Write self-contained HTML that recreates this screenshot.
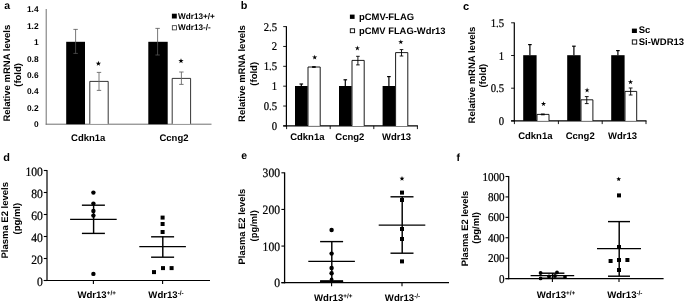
<!DOCTYPE html>
<html><head><meta charset="utf-8"><title>Figure</title>
<style>
html,body{margin:0;padding:0;background:#fff;}
body{width:685px;height:302px;overflow:hidden;font-family:"Liberation Sans",sans-serif;}
svg{display:block;will-change:transform;}
</style></head><body>
<svg width="685" height="302" viewBox="0 0 685 302" text-rendering="geometricPrecision">
<rect x="0" y="0" width="685" height="302" fill="#fff"/>
<text x="4.2" y="9.2" font-size="10.5" font-family="Liberation Sans, sans-serif" font-weight="bold" text-anchor="start" >a</text>
<text transform="translate(9.8 73.2) rotate(-90)" font-size="9.5" font-family="Liberation Sans, sans-serif" font-weight="bold" text-anchor="middle" >Relative mRNA levels</text>
<text transform="translate(20.6 74.9) rotate(-90)" font-size="9.5" font-family="Liberation Sans, sans-serif" font-weight="bold" text-anchor="middle" >(fold)</text>
<line x1="46.2" y1="9" x2="46.2" y2="124.7" stroke="#707070" stroke-width="1.0"/>
<line x1="45.7" y1="124.2" x2="211.5" y2="124.2" stroke="#707070" stroke-width="1.0"/>
<text x="38.6" y="127.2" font-size="8.4" font-family="Liberation Sans, sans-serif" font-weight="bold" text-anchor="end" >0</text>
<text x="38.6" y="110.80000000000001" font-size="8.4" font-family="Liberation Sans, sans-serif" font-weight="bold" text-anchor="end" >0.2</text>
<text x="38.6" y="94.4" font-size="8.4" font-family="Liberation Sans, sans-serif" font-weight="bold" text-anchor="end" >0.4</text>
<text x="38.6" y="78.0" font-size="8.4" font-family="Liberation Sans, sans-serif" font-weight="bold" text-anchor="end" >0.6</text>
<text x="38.6" y="61.60000000000001" font-size="8.4" font-family="Liberation Sans, sans-serif" font-weight="bold" text-anchor="end" >0.8</text>
<text x="38.6" y="45.2" font-size="8.4" font-family="Liberation Sans, sans-serif" font-weight="bold" text-anchor="end" >1</text>
<text x="38.6" y="28.80000000000001" font-size="8.4" font-family="Liberation Sans, sans-serif" font-weight="bold" text-anchor="end" >1.2</text>
<text x="38.6" y="12.40000000000002" font-size="8.4" font-family="Liberation Sans, sans-serif" font-weight="bold" text-anchor="end" >1.4</text>
<rect x="66.20" y="41.80" width="18.80" height="82.40" fill="#000"/>
<path d="M89.80 123.80V81.40H108.20V123.80" fill="#fff" stroke="#000" stroke-width="0.8"/>
<rect x="148.30" y="41.80" width="19.40" height="82.40" fill="#000"/>
<path d="M172.20 123.80V78.40H190.60V123.80" fill="#fff" stroke="#000" stroke-width="0.8"/>
<line x1="75.6" y1="29.4" x2="75.6" y2="53.4" stroke="#555" stroke-width="0.8"/>
<line x1="73.39999999999999" y1="29.4" x2="77.8" y2="29.4" stroke="#555" stroke-width="0.8"/>
<line x1="73.39999999999999" y1="53.4" x2="77.8" y2="53.4" stroke="#555" stroke-width="0.8"/>
<line x1="99" y1="72.4" x2="99" y2="90.4" stroke="#6a6a6a" stroke-width="0.9"/>
<line x1="96.8" y1="72.4" x2="101.2" y2="72.4" stroke="#6a6a6a" stroke-width="0.9"/>
<line x1="96.8" y1="90.4" x2="101.2" y2="90.4" stroke="#6a6a6a" stroke-width="0.9"/>
<line x1="157.6" y1="28.4" x2="157.6" y2="55" stroke="#555" stroke-width="0.8"/>
<line x1="155.4" y1="28.4" x2="159.79999999999998" y2="28.4" stroke="#555" stroke-width="0.8"/>
<line x1="155.4" y1="55" x2="159.79999999999998" y2="55" stroke="#555" stroke-width="0.8"/>
<line x1="181.4" y1="72" x2="181.4" y2="84.4" stroke="#6a6a6a" stroke-width="0.9"/>
<line x1="179.20000000000002" y1="72" x2="183.6" y2="72" stroke="#6a6a6a" stroke-width="0.9"/>
<line x1="179.20000000000002" y1="84.4" x2="183.6" y2="84.4" stroke="#6a6a6a" stroke-width="0.9"/>
<polygon points="98.40,60.80 99.05,62.71 101.06,62.73 99.45,63.94 100.05,65.87 98.40,64.70 96.75,65.87 97.35,63.94 95.74,62.73 97.75,62.71" fill="#000"/>
<polygon points="181.00,58.20 181.65,60.11 183.66,60.13 182.05,61.34 182.65,63.27 181.00,62.10 179.35,63.27 179.95,61.34 178.34,60.13 180.35,60.11" fill="#000"/>
<text x="88.2" y="140.9" font-size="9.5" font-family="Liberation Sans, sans-serif" font-weight="bold" text-anchor="middle" >Cdkn1a</text>
<text x="174" y="140.9" font-size="9.5" font-family="Liberation Sans, sans-serif" font-weight="bold" text-anchor="middle" >Ccng2</text>
<rect x="171.90" y="13.70" width="4.90" height="4.80" fill="#000"/>
<text x="178" y="19" font-size="8.2" font-family="Liberation Sans, sans-serif" font-weight="bold" text-anchor="start" >Wdr13+/+</text>
<rect x="172.30" y="25.70" width="4.20" height="4.20" fill="#fff" stroke="#222" stroke-width="0.75"/>
<text x="178" y="30.4" font-size="8.2" font-family="Liberation Sans, sans-serif" font-weight="bold" text-anchor="start" >Wdr13-/-</text>
<text x="240.7" y="8.8" font-size="10.9" font-family="Liberation Sans, sans-serif" font-weight="bold" text-anchor="start" >b</text>
<text transform="translate(245.4 73.5) rotate(-90)" font-size="9.5" font-family="Liberation Sans, sans-serif" font-weight="bold" text-anchor="middle" >Relative mRNA levels</text>
<text transform="translate(256.9 73.8) rotate(-90)" font-size="9.5" font-family="Liberation Sans, sans-serif" font-weight="bold" text-anchor="middle" >(fold)</text>
<line x1="286.4" y1="26.2" x2="286.4" y2="126.5" stroke="#000" stroke-width="1.2"/>
<line x1="283.2" y1="125.9" x2="417.9" y2="125.9" stroke="#000" stroke-width="1.3"/>
<line x1="283.2" y1="125.9" x2="286.4" y2="125.9" stroke="#000" stroke-width="0.9"/>
<text transform="translate(277.0 129.90) scale(1 1.1)" font-size="10.7" font-family="Liberation Serif, serif" text-anchor="end" stroke="#000" stroke-width="0.22">0</text>
<line x1="283.2" y1="106.04" x2="286.4" y2="106.04" stroke="#000" stroke-width="0.9"/>
<text transform="translate(277.0 110.04) scale(1 1.1)" font-size="10.7" font-family="Liberation Serif, serif" text-anchor="end" stroke="#000" stroke-width="0.22">0.5</text>
<line x1="283.2" y1="86.18" x2="286.4" y2="86.18" stroke="#000" stroke-width="0.9"/>
<text transform="translate(277.0 90.18) scale(1 1.1)" font-size="10.7" font-family="Liberation Serif, serif" text-anchor="end" stroke="#000" stroke-width="0.22">1</text>
<line x1="283.2" y1="66.32000000000001" x2="286.4" y2="66.32000000000001" stroke="#000" stroke-width="0.9"/>
<text transform="translate(277.0 70.32) scale(1 1.1)" font-size="10.7" font-family="Liberation Serif, serif" text-anchor="end" stroke="#000" stroke-width="0.22">1.5</text>
<line x1="283.2" y1="46.46000000000001" x2="286.4" y2="46.46000000000001" stroke="#000" stroke-width="0.9"/>
<text transform="translate(277.0 50.46) scale(1 1.1)" font-size="10.7" font-family="Liberation Serif, serif" text-anchor="end" stroke="#000" stroke-width="0.22">2</text>
<line x1="283.2" y1="26.60000000000001" x2="286.4" y2="26.60000000000001" stroke="#000" stroke-width="0.9"/>
<text transform="translate(277.0 30.60) scale(1 1.1)" font-size="10.7" font-family="Liberation Serif, serif" text-anchor="end" stroke="#000" stroke-width="0.22">2.5</text>
<line x1="286.6" y1="125.9" x2="286.6" y2="129.1" stroke="#000" stroke-width="0.9"/>
<line x1="330.2" y1="125.9" x2="330.2" y2="129.1" stroke="#000" stroke-width="0.9"/>
<line x1="373.8" y1="125.9" x2="373.8" y2="129.1" stroke="#000" stroke-width="0.9"/>
<line x1="417.4" y1="125.9" x2="417.4" y2="129.1" stroke="#000" stroke-width="0.9"/>
<rect x="295.00" y="86.00" width="12.60" height="39.90" fill="#000"/>
<path d="M308.00 125.90V67.00H320.20V125.90" fill="#fff" stroke="#000" stroke-width="0.9"/>
<line x1="301.3" y1="84.0" x2="301.3" y2="86" stroke="#000" stroke-width="1.2"/>
<line x1="299.5" y1="84.0" x2="303.1" y2="84.0" stroke="#000" stroke-width="1.2"/>
<line x1="313.90000000000003" y1="66.6" x2="313.90000000000003" y2="67.4" stroke="#000" stroke-width="0.9"/>
<line x1="312.1" y1="66.6" x2="315.70000000000005" y2="66.6" stroke="#000" stroke-width="0.9"/>
<line x1="312.1" y1="67.4" x2="315.70000000000005" y2="67.4" stroke="#000" stroke-width="0.9"/>
<rect x="339.00" y="86.00" width="12.60" height="39.90" fill="#000"/>
<path d="M352.00 125.90V60.40H364.20V125.90" fill="#fff" stroke="#000" stroke-width="0.9"/>
<line x1="345.3" y1="79.8" x2="345.3" y2="86" stroke="#000" stroke-width="1.2"/>
<line x1="343.5" y1="79.8" x2="347.1" y2="79.8" stroke="#000" stroke-width="1.2"/>
<line x1="357.90000000000003" y1="56.3" x2="357.90000000000003" y2="64.9" stroke="#000" stroke-width="0.9"/>
<line x1="356.1" y1="56.3" x2="359.70000000000005" y2="56.3" stroke="#000" stroke-width="0.9"/>
<line x1="356.1" y1="64.9" x2="359.70000000000005" y2="64.9" stroke="#000" stroke-width="0.9"/>
<rect x="382.60" y="86.00" width="12.60" height="39.90" fill="#000"/>
<path d="M395.60 125.90V52.60H407.80V125.90" fill="#fff" stroke="#000" stroke-width="0.9"/>
<line x1="388.90000000000003" y1="76.60000000000001" x2="388.90000000000003" y2="86" stroke="#000" stroke-width="1.2"/>
<line x1="387.1" y1="76.60000000000001" x2="390.70000000000005" y2="76.60000000000001" stroke="#000" stroke-width="1.2"/>
<line x1="401.50000000000006" y1="49.6" x2="401.50000000000006" y2="56" stroke="#000" stroke-width="0.9"/>
<line x1="399.70000000000005" y1="49.6" x2="403.30000000000007" y2="49.6" stroke="#000" stroke-width="0.9"/>
<line x1="399.70000000000005" y1="56" x2="403.30000000000007" y2="56" stroke="#000" stroke-width="0.9"/>
<polygon points="314.70,54.70 315.29,56.59 317.27,56.57 315.65,57.71 316.29,59.58 314.70,58.40 313.11,59.58 313.75,57.71 312.13,56.57 314.11,56.59" fill="#000"/>
<polygon points="357.40,45.50 357.99,47.39 359.97,47.37 358.35,48.51 358.99,50.38 357.40,49.20 355.81,50.38 356.45,48.51 354.83,47.37 356.81,47.39" fill="#000"/>
<polygon points="400.80,39.40 401.39,41.29 403.37,41.27 401.75,42.41 402.39,44.28 400.80,43.10 399.21,44.28 399.85,42.41 398.23,41.27 400.21,41.29" fill="#000"/>
<text x="307.3" y="140.2" font-size="9.5" font-family="Liberation Sans, sans-serif" font-weight="bold" text-anchor="middle" >Cdkn1a</text>
<text x="349.8" y="140" font-size="9.5" font-family="Liberation Sans, sans-serif" font-weight="bold" text-anchor="middle" >Ccng2</text>
<text x="396.5" y="140" font-size="9.5" font-family="Liberation Sans, sans-serif" font-weight="bold" text-anchor="middle" >Wdr13</text>
<rect x="349.90" y="14.60" width="4.70" height="4.30" fill="#000"/>
<text x="359" y="20" font-size="9.45" font-family="Liberation Sans, sans-serif" font-weight="bold" text-anchor="start" >pCMV-FLAG</text>
<rect x="350.30" y="28.80" width="4.30" height="3.90" fill="#fff" stroke="#000" stroke-width="0.9"/>
<text x="359" y="33.8" font-size="9.4" font-family="Liberation Sans, sans-serif" font-weight="bold" text-anchor="start" >pCMV FLAG-Wdr13</text>
<text x="462.9" y="9.8" font-size="11" font-family="Liberation Sans, sans-serif" font-weight="bold" text-anchor="start" >c</text>
<text transform="translate(475.1 75.0) rotate(-90)" font-size="9.5" font-family="Liberation Sans, sans-serif" font-weight="bold" text-anchor="middle" >Relative mRNA levels</text>
<text transform="translate(486.3 75.7) rotate(-90)" font-size="9.5" font-family="Liberation Sans, sans-serif" font-weight="bold" text-anchor="middle" >(fold)</text>
<line x1="514.3" y1="22.6" x2="514.3" y2="121.5" stroke="#000" stroke-width="1.2"/>
<line x1="511.09999999999997" y1="120.9" x2="646.5" y2="120.9" stroke="#000" stroke-width="1.3"/>
<line x1="511.09999999999997" y1="120.9" x2="514.3" y2="120.9" stroke="#000" stroke-width="0.9"/>
<text transform="translate(504.1 124.90) scale(1 1.1)" font-size="10.7" font-family="Liberation Serif, serif" text-anchor="end" stroke="#000" stroke-width="0.22">0</text>
<line x1="511.09999999999997" y1="88.2" x2="514.3" y2="88.2" stroke="#000" stroke-width="0.9"/>
<text transform="translate(504.1 92.20) scale(1 1.1)" font-size="10.7" font-family="Liberation Serif, serif" text-anchor="end" stroke="#000" stroke-width="0.22">0.5</text>
<line x1="511.09999999999997" y1="55.5" x2="514.3" y2="55.5" stroke="#000" stroke-width="0.9"/>
<text transform="translate(504.1 59.50) scale(1 1.1)" font-size="10.7" font-family="Liberation Serif, serif" text-anchor="end" stroke="#000" stroke-width="0.22">1</text>
<line x1="511.09999999999997" y1="22.799999999999997" x2="514.3" y2="22.799999999999997" stroke="#000" stroke-width="0.9"/>
<text transform="translate(504.1 26.80) scale(1 1.1)" font-size="10.7" font-family="Liberation Serif, serif" text-anchor="end" stroke="#000" stroke-width="0.22">1.5</text>
<line x1="514.4" y1="120.9" x2="514.4" y2="124.10000000000001" stroke="#000" stroke-width="0.9"/>
<line x1="558.4" y1="120.9" x2="558.4" y2="124.10000000000001" stroke="#000" stroke-width="0.9"/>
<line x1="602.2" y1="120.9" x2="602.2" y2="124.10000000000001" stroke="#000" stroke-width="0.9"/>
<line x1="646" y1="120.9" x2="646" y2="124.10000000000001" stroke="#000" stroke-width="0.9"/>
<rect x="523.20" y="55.20" width="13.40" height="65.70" fill="#000"/>
<path d="M537.00 120.90V114.40H549.00V120.90" fill="#fff" stroke="#000" stroke-width="0.9"/>
<line x1="529.9000000000001" y1="44.6" x2="529.9000000000001" y2="55.2" stroke="#000" stroke-width="1.2"/>
<line x1="528.1000000000001" y1="44.6" x2="531.7" y2="44.6" stroke="#000" stroke-width="1.2"/>
<line x1="542.8000000000001" y1="114" x2="542.8000000000001" y2="114.8" stroke="#000" stroke-width="0.9"/>
<line x1="540.9000000000001" y1="114" x2="544.7" y2="114" stroke="#000" stroke-width="0.9"/>
<line x1="540.9000000000001" y1="114.8" x2="544.7" y2="114.8" stroke="#000" stroke-width="0.9"/>
<rect x="567.20" y="55.20" width="13.40" height="65.70" fill="#000"/>
<path d="M581.00 120.90V99.80H592.90V120.90" fill="#fff" stroke="#000" stroke-width="0.9"/>
<line x1="573.9000000000001" y1="46.2" x2="573.9000000000001" y2="55.2" stroke="#000" stroke-width="1.2"/>
<line x1="572.1000000000001" y1="46.2" x2="575.7" y2="46.2" stroke="#000" stroke-width="1.2"/>
<line x1="586.75" y1="96.6" x2="586.75" y2="103.6" stroke="#000" stroke-width="0.9"/>
<line x1="584.85" y1="96.6" x2="588.65" y2="96.6" stroke="#000" stroke-width="0.9"/>
<line x1="584.85" y1="103.6" x2="588.65" y2="103.6" stroke="#000" stroke-width="0.9"/>
<rect x="611.20" y="55.20" width="13.40" height="65.70" fill="#000"/>
<path d="M625.00 120.90V91.40H636.70V120.90" fill="#fff" stroke="#000" stroke-width="0.9"/>
<line x1="617.9000000000001" y1="50.6" x2="617.9000000000001" y2="55.2" stroke="#000" stroke-width="1.2"/>
<line x1="616.1000000000001" y1="50.6" x2="619.7" y2="50.6" stroke="#000" stroke-width="1.2"/>
<line x1="630.65" y1="88" x2="630.65" y2="95" stroke="#000" stroke-width="0.9"/>
<line x1="628.75" y1="88" x2="632.55" y2="88" stroke="#000" stroke-width="0.9"/>
<line x1="628.75" y1="95" x2="632.55" y2="95" stroke="#000" stroke-width="0.9"/>
<polygon points="543.50,101.20 544.09,103.09 546.07,103.07 544.45,104.21 545.09,106.08 543.50,104.90 541.91,106.08 542.55,104.21 540.93,103.07 542.91,103.09" fill="#000"/>
<polygon points="587.10,87.60 587.69,89.49 589.67,89.47 588.05,90.61 588.69,92.48 587.10,91.30 585.51,92.48 586.15,90.61 584.53,89.47 586.51,89.49" fill="#000"/>
<polygon points="630.50,79.40 631.09,81.29 633.07,81.27 631.45,82.41 632.09,84.28 630.50,83.10 628.91,84.28 629.55,82.41 627.93,81.27 629.91,81.29" fill="#000"/>
<text x="535.3" y="139" font-size="9.5" font-family="Liberation Sans, sans-serif" font-weight="bold" text-anchor="middle" >Cdkn1a</text>
<text x="580.2" y="139" font-size="9.5" font-family="Liberation Sans, sans-serif" font-weight="bold" text-anchor="middle" >Ccng2</text>
<text x="622.6" y="139" font-size="9.5" font-family="Liberation Sans, sans-serif" font-weight="bold" text-anchor="middle" >Wdr13</text>
<rect x="631.90" y="28.60" width="5.00" height="4.40" fill="#000"/>
<text x="638.7" y="33" font-size="9.5" font-family="Liberation Sans, sans-serif" font-weight="bold" text-anchor="start" >Sc</text>
<rect x="632.30" y="39.90" width="4.40" height="4.20" fill="#fff" stroke="#000" stroke-width="0.9"/>
<text x="638.7" y="44.6" font-size="9.5" font-family="Liberation Sans, sans-serif" font-weight="bold" text-anchor="start" >Si-WDR13</text>
<text x="3.3" y="160.8" font-size="10.9" font-family="Liberation Sans, sans-serif" font-weight="bold" text-anchor="start" >d</text>
<text transform="translate(8.2 220.3) rotate(-90)" font-size="9.5" font-family="Liberation Sans, sans-serif" font-weight="bold" text-anchor="middle" >Plasma E2 levels</text>
<text transform="translate(19.6 218.7) rotate(-90)" font-size="9.5" font-family="Liberation Sans, sans-serif" font-weight="bold" text-anchor="middle" >(pg/ml)</text>
<line x1="47" y1="170" x2="47" y2="281.1" stroke="#000" stroke-width="1.2"/>
<line x1="43.8" y1="280.5" x2="210" y2="280.5" stroke="#000" stroke-width="1.2"/>
<line x1="43.8" y1="280.5" x2="47" y2="280.5" stroke="#000" stroke-width="1.1"/>
<text transform="translate(42.9 285.60) scale(1 1.1)" font-size="11.6" font-family="Liberation Serif, serif" text-anchor="end" stroke="#000" stroke-width="0.22">0</text>
<line x1="43.8" y1="258.5" x2="47" y2="258.5" stroke="#000" stroke-width="1.1"/>
<text transform="translate(42.9 263.60) scale(1 1.1)" font-size="11.6" font-family="Liberation Serif, serif" text-anchor="end" stroke="#000" stroke-width="0.22">20</text>
<line x1="43.8" y1="236.5" x2="47" y2="236.5" stroke="#000" stroke-width="1.1"/>
<text transform="translate(42.9 241.60) scale(1 1.1)" font-size="11.6" font-family="Liberation Serif, serif" text-anchor="end" stroke="#000" stroke-width="0.22">40</text>
<line x1="43.8" y1="214.5" x2="47" y2="214.5" stroke="#000" stroke-width="1.1"/>
<text transform="translate(42.9 219.60) scale(1 1.1)" font-size="11.6" font-family="Liberation Serif, serif" text-anchor="end" stroke="#000" stroke-width="0.22">60</text>
<line x1="43.8" y1="192.5" x2="47" y2="192.5" stroke="#000" stroke-width="1.1"/>
<text transform="translate(42.9 197.60) scale(1 1.1)" font-size="11.6" font-family="Liberation Serif, serif" text-anchor="end" stroke="#000" stroke-width="0.22">80</text>
<line x1="43.8" y1="170.5" x2="47" y2="170.5" stroke="#000" stroke-width="1.1"/>
<text transform="translate(42.9 175.60) scale(1 1.1)" font-size="11.6" font-family="Liberation Serif, serif" text-anchor="end" stroke="#000" stroke-width="0.22">100</text>
<line x1="93.4" y1="280.5" x2="93.4" y2="284.1" stroke="#000" stroke-width="1.1"/>
<line x1="162.6" y1="280.5" x2="162.6" y2="284.1" stroke="#000" stroke-width="1.1"/>
<line x1="93.60000000000001" y1="205" x2="93.60000000000001" y2="233.2" stroke="#000" stroke-width="1.45"/>
<line x1="81.9" y1="205.2" x2="104.9" y2="205.2" stroke="#000" stroke-width="1.4"/>
<line x1="81.9" y1="233.39999999999998" x2="104.9" y2="233.39999999999998" stroke="#000" stroke-width="1.4"/>
<line x1="70.10000000000001" y1="219.4" x2="116.7" y2="219.4" stroke="#000" stroke-width="1.25"/>
<circle cx="93.4" cy="192.6" r="2.2" fill="#000"/>
<circle cx="93.4" cy="203.6" r="2.2" fill="#000"/>
<circle cx="93.4" cy="211" r="2.2" fill="#000"/>
<circle cx="93.4" cy="215.6" r="2.2" fill="#000"/>
<circle cx="93.4" cy="273.9" r="2.2" fill="#000"/>
<line x1="162.79999999999998" y1="236.6" x2="162.79999999999998" y2="257" stroke="#000" stroke-width="1.45"/>
<line x1="151.1" y1="236.79999999999998" x2="174.1" y2="236.79999999999998" stroke="#000" stroke-width="1.4"/>
<line x1="151.1" y1="257.2" x2="174.1" y2="257.2" stroke="#000" stroke-width="1.4"/>
<line x1="139.29999999999998" y1="246.6" x2="185.9" y2="246.6" stroke="#000" stroke-width="1.25"/>
<rect x="160.60" y="215.60" width="4.00" height="4.00" fill="#000"/>
<rect x="160.60" y="222.00" width="4.00" height="4.00" fill="#000"/>
<rect x="160.60" y="230.00" width="4.00" height="4.00" fill="#000"/>
<rect x="152.00" y="270.10" width="4.00" height="4.00" fill="#000"/>
<rect x="161.00" y="266.10" width="4.00" height="4.00" fill="#000"/>
<rect x="169.60" y="266.10" width="4.00" height="4.00" fill="#000"/>
<text x="96.6" y="298.2" font-size="9.6" font-family="Liberation Sans, sans-serif" font-weight="bold" text-anchor="middle">Wdr13<tspan font-size="6.3" dy="-3.1">+/+</tspan></text>
<text x="166" y="298.2" font-size="9.6" font-family="Liberation Sans, sans-serif" font-weight="bold" text-anchor="middle">Wdr13<tspan font-size="6.3" dy="-3.1">-/-</tspan></text>
<text x="241.3" y="158.5" font-size="10.5" font-family="Liberation Sans, sans-serif" font-weight="bold" text-anchor="start" >e</text>
<text transform="translate(245.1 226.6) rotate(-90)" font-size="9.4" font-family="Liberation Sans, sans-serif" font-weight="bold" text-anchor="middle" >Plasma E2 levels</text>
<text transform="translate(257.0 225.8) rotate(-90)" font-size="9.4" font-family="Liberation Sans, sans-serif" font-weight="bold" text-anchor="middle" >(pg/ml)</text>
<line x1="284.6" y1="172.4" x2="284.6" y2="283.3" stroke="#000" stroke-width="1.3"/>
<line x1="281.40000000000003" y1="282.7" x2="449" y2="282.7" stroke="#000" stroke-width="1.2"/>
<line x1="281.40000000000003" y1="282.7" x2="284.6" y2="282.7" stroke="#000" stroke-width="1.1"/>
<text transform="translate(280.0 287.30) scale(1 1.1)" font-size="11.6" font-family="Liberation Serif, serif" text-anchor="end" stroke="#000" stroke-width="0.22">0</text>
<line x1="281.40000000000003" y1="246.07" x2="284.6" y2="246.07" stroke="#000" stroke-width="1.1"/>
<text transform="translate(280.0 250.67) scale(1 1.1)" font-size="11.6" font-family="Liberation Serif, serif" text-anchor="end" stroke="#000" stroke-width="0.22">100</text>
<line x1="281.40000000000003" y1="209.44" x2="284.6" y2="209.44" stroke="#000" stroke-width="1.1"/>
<text transform="translate(280.0 214.04) scale(1 1.1)" font-size="11.6" font-family="Liberation Serif, serif" text-anchor="end" stroke="#000" stroke-width="0.22">200</text>
<line x1="281.40000000000003" y1="172.80999999999997" x2="284.6" y2="172.80999999999997" stroke="#000" stroke-width="1.1"/>
<text transform="translate(280.0 177.41) scale(1 1.1)" font-size="11.6" font-family="Liberation Serif, serif" text-anchor="end" stroke="#000" stroke-width="0.22">300</text>
<line x1="331.6" y1="282.7" x2="331.6" y2="286.3" stroke="#000" stroke-width="1.1"/>
<line x1="402" y1="282.7" x2="402" y2="286.3" stroke="#000" stroke-width="1.1"/>
<line x1="331.8" y1="241.4" x2="331.8" y2="281.2" stroke="#000" stroke-width="1.45"/>
<line x1="320.1" y1="241.6" x2="343.1" y2="241.6" stroke="#000" stroke-width="1.4"/>
<line x1="320.1" y1="281.4" x2="343.1" y2="281.4" stroke="#000" stroke-width="1.4"/>
<line x1="308.3" y1="261.4" x2="354.90000000000003" y2="261.4" stroke="#000" stroke-width="1.25"/>
<line x1="320.1" y1="281.1" x2="343.1" y2="281.1" stroke="#000" stroke-width="1.8"/>
<circle cx="331.6" cy="230" r="2.2" fill="#000"/>
<circle cx="331.6" cy="253.6" r="2.2" fill="#000"/>
<circle cx="331.6" cy="268" r="2.2" fill="#000"/>
<circle cx="331.6" cy="273.2" r="2.2" fill="#000"/>
<circle cx="331.6" cy="279.4" r="1.9" fill="#000"/>
<line x1="402.2" y1="196.6" x2="402.2" y2="253" stroke="#000" stroke-width="1.45"/>
<line x1="390.5" y1="196.79999999999998" x2="413.5" y2="196.79999999999998" stroke="#000" stroke-width="1.4"/>
<line x1="390.5" y1="253.2" x2="413.5" y2="253.2" stroke="#000" stroke-width="1.4"/>
<line x1="378.7" y1="225" x2="425.3" y2="225" stroke="#000" stroke-width="1.25"/>
<rect x="400.00" y="190.60" width="4.00" height="4.00" fill="#000"/>
<rect x="400.00" y="198.00" width="4.00" height="4.00" fill="#000"/>
<rect x="400.00" y="227.00" width="4.00" height="4.00" fill="#000"/>
<rect x="400.00" y="237.00" width="4.00" height="4.00" fill="#000"/>
<rect x="400.00" y="259.40" width="4.00" height="4.00" fill="#000"/>
<polygon points="402.00,176.05 402.65,177.71 404.43,177.81 403.05,178.94 403.50,180.66 402.00,179.70 400.50,180.66 400.95,178.94 399.57,177.81 401.35,177.71" fill="#000"/>
<text x="333.2" y="300.8" font-size="9.6" font-family="Liberation Sans, sans-serif" font-weight="bold" text-anchor="middle">Wdr13<tspan font-size="6.3" dy="-3.1">+/+</tspan></text>
<text x="402.5" y="300.8" font-size="9.6" font-family="Liberation Sans, sans-serif" font-weight="bold" text-anchor="middle">Wdr13<tspan font-size="6.3" dy="-3.1">-/-</tspan></text>
<text x="456.6" y="161" font-size="10.5" font-family="Liberation Sans, sans-serif" font-weight="bold" text-anchor="start" >f</text>
<text transform="translate(467.8 228.5) rotate(-90)" font-size="9.4" font-family="Liberation Sans, sans-serif" font-weight="bold" text-anchor="middle" >Plasma E2 levels</text>
<text transform="translate(479 227.9) rotate(-90)" font-size="9.5" font-family="Liberation Sans, sans-serif" font-weight="bold" text-anchor="middle" >(pg/ml)</text>
<line x1="508.7" y1="176.0" x2="508.7" y2="279.20000000000005" stroke="#000" stroke-width="1.2"/>
<line x1="505.5" y1="278.6" x2="663.6" y2="278.6" stroke="#000" stroke-width="1.2"/>
<line x1="505.5" y1="278.6" x2="508.7" y2="278.6" stroke="#000" stroke-width="1.1"/>
<text transform="translate(504.6 282.60) scale(1 1.08)" font-size="11.1" font-family="Liberation Serif, serif" text-anchor="end" stroke="#000" stroke-width="0.22">0</text>
<line x1="505.5" y1="258.18" x2="508.7" y2="258.18" stroke="#000" stroke-width="1.1"/>
<text transform="translate(504.6 262.18) scale(1 1.08)" font-size="11.1" font-family="Liberation Serif, serif" text-anchor="end" stroke="#000" stroke-width="0.22">200</text>
<line x1="505.5" y1="237.76000000000002" x2="508.7" y2="237.76000000000002" stroke="#000" stroke-width="1.1"/>
<text transform="translate(504.6 241.76) scale(1 1.08)" font-size="11.1" font-family="Liberation Serif, serif" text-anchor="end" stroke="#000" stroke-width="0.22">400</text>
<line x1="505.5" y1="217.34000000000003" x2="508.7" y2="217.34000000000003" stroke="#000" stroke-width="1.1"/>
<text transform="translate(504.6 221.34) scale(1 1.08)" font-size="11.1" font-family="Liberation Serif, serif" text-anchor="end" stroke="#000" stroke-width="0.22">600</text>
<line x1="505.5" y1="196.92000000000002" x2="508.7" y2="196.92000000000002" stroke="#000" stroke-width="1.1"/>
<text transform="translate(504.6 200.92) scale(1 1.08)" font-size="11.1" font-family="Liberation Serif, serif" text-anchor="end" stroke="#000" stroke-width="0.22">800</text>
<line x1="505.5" y1="176.5" x2="508.7" y2="176.5" stroke="#000" stroke-width="1.1"/>
<text transform="translate(504.6 180.50) scale(1 1.08)" font-size="11.1" font-family="Liberation Serif, serif" text-anchor="end" stroke="#000" stroke-width="0.22">1000</text>
<line x1="552.4" y1="278.6" x2="552.4" y2="282.0" stroke="#000" stroke-width="1.1"/>
<line x1="619" y1="278.6" x2="619" y2="282.0" stroke="#000" stroke-width="1.1"/>
<line x1="552.6" y1="273" x2="552.6" y2="278" stroke="#000" stroke-width="1.45"/>
<line x1="540.4" y1="273.2" x2="564.4" y2="273.2" stroke="#000" stroke-width="1.4"/>
<line x1="540.4" y1="278.2" x2="564.4" y2="278.2" stroke="#000" stroke-width="1.4"/>
<line x1="530.6" y1="275.6" x2="574.1999999999999" y2="275.6" stroke="#000" stroke-width="1.25"/>
<circle cx="540.6" cy="273" r="1.9" fill="#000"/>
<circle cx="557" cy="272.4" r="1.9" fill="#000"/>
<circle cx="540.6" cy="278.4" r="1.9" fill="#000"/>
<circle cx="549" cy="276.4" r="1.9" fill="#000"/>
<circle cx="555" cy="276" r="1.9" fill="#000"/>
<circle cx="565" cy="277" r="1.9" fill="#000"/>
<line x1="619.2" y1="221.4" x2="619.2" y2="276" stroke="#000" stroke-width="1.45"/>
<line x1="608.0" y1="221.6" x2="630.0" y2="221.6" stroke="#000" stroke-width="1.4"/>
<line x1="608.0" y1="276.2" x2="630.0" y2="276.2" stroke="#000" stroke-width="1.4"/>
<line x1="597.0" y1="248.6" x2="641.0" y2="248.6" stroke="#000" stroke-width="1.25"/>
<rect x="617.00" y="193.40" width="4.00" height="4.00" fill="#000"/>
<rect x="617.00" y="245.00" width="4.00" height="4.00" fill="#000"/>
<rect x="608.60" y="259.00" width="4.00" height="4.00" fill="#000"/>
<rect x="617.00" y="258.00" width="4.00" height="4.00" fill="#000"/>
<rect x="625.40" y="258.00" width="4.00" height="4.00" fill="#000"/>
<rect x="617.00" y="268.00" width="4.00" height="4.00" fill="#000"/>
<polygon points="618.70,176.65 619.36,178.19 621.03,178.34 619.77,179.45 620.14,181.08 618.70,180.22 617.26,181.08 617.63,179.45 616.37,178.34 618.04,178.19" fill="#000"/>
<text x="556" y="297.6" font-size="9.6" font-family="Liberation Sans, sans-serif" font-weight="bold" text-anchor="middle">Wdr13<tspan font-size="6.3" dy="-3.1">+/+</tspan></text>
<text x="624.8" y="297.6" font-size="9.6" font-family="Liberation Sans, sans-serif" font-weight="bold" text-anchor="middle">Wdr13<tspan font-size="6.3" dy="-3.1">-/-</tspan></text>
</svg>
</body></html>
